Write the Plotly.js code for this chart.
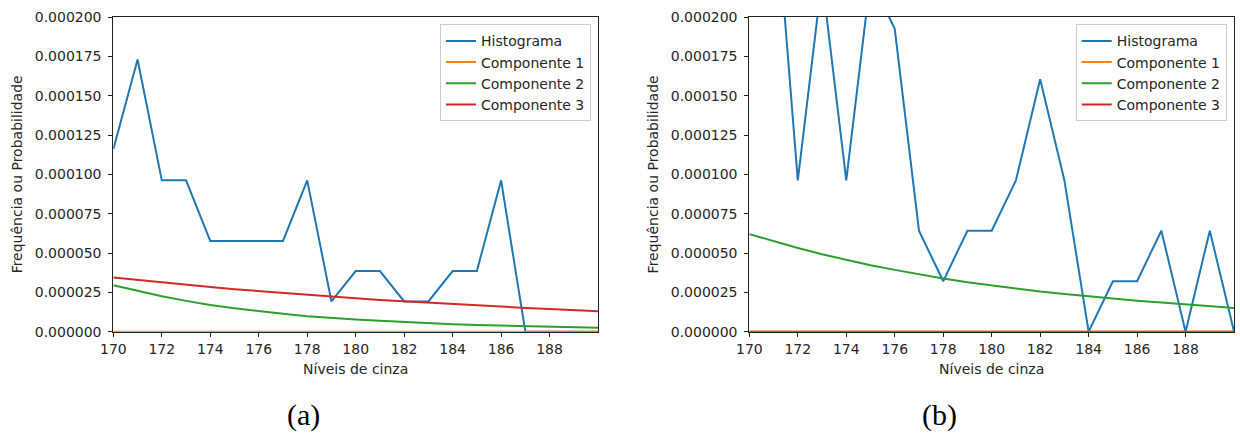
<!DOCTYPE html>
<html>
<head>
<meta charset="utf-8">
<script src="https://cdn.plot.ly/plotly-3.0.1.min.js"></script>
<style>html,body{margin:0;padding:0;background:#fff;}#chart{width:1240px;height:434px;}</style>
</head>
<body>
<div id="chart"></div>
<script>
// Gray levels (x values)
const levels = [170,171,172,173,174,175,176,177,178,179,180,181,182,183,184,185,186,187,188,189,190];

// Panel (a)
const histA  = [116e-6,173e-6,96.2e-6,96.2e-6,57.7e-6,57.7e-6,57.7e-6,57.7e-6,96.2e-6,19.2e-6,38.5e-6,38.5e-6,19.2e-6,19.2e-6,38.5e-6,38.5e-6,96.2e-6,0,0,0,0];
const comp1A = [0,0,0,0,0,0,0,0,0,0,0,0,0,0,0,0,0,0,0,0,0];
const comp2A = [29.5e-6,25.8e-6,22.5e-6,19.6e-6,17.0e-6,14.9e-6,13.0e-6,11.4e-6,9.9e-6,8.7e-6,7.8e-6,6.9e-6,6.1e-6,5.4e-6,4.8e-6,4.2e-6,3.8e-6,3.4e-6,3.0e-6,2.7e-6,2.5e-6];
const comp3A = [34.4e-6,32.8e-6,31.2e-6,29.8e-6,28.4e-6,27.0e-6,25.8e-6,24.5e-6,23.4e-6,22.3e-6,21.2e-6,20.2e-6,19.3e-6,18.4e-6,17.5e-6,16.7e-6,15.9e-6,15.1e-6,14.4e-6,13.7e-6,13.0e-6];

// Panel (b)
const histB  = [321e-6,289e-6,96.2e-6,224.5e-6,96.2e-6,224.5e-6,192.5e-6,64.2e-6,32.1e-6,64.2e-6,64.2e-6,96.2e-6,160.4e-6,96.2e-6,0,32.1e-6,32.1e-6,64.2e-6,0,64.2e-6,0];
const comp1B = [0,0,0,0,0,0,0,0,0,0,0,0,0,0,0,0,0,0,0,0,0];
const comp2B = [62.0e-6,57.5e-6,53.2e-6,49.2e-6,45.6e-6,42.3e-6,39.3e-6,36.5e-6,33.8e-6,31.4e-6,29.3e-6,27.3e-6,25.5e-6,23.9e-6,22.4e-6,21.0e-6,19.7e-6,18.5e-6,17.3e-6,16.1e-6,15.0e-6];
const comp3B = [0,0,0,0,0,0,0,0,0,0,0,0,0,0,0,0,0,0,0,0,0];

// Labels and ticks
const seriesNames = ["Histograma","Componente 1","Componente 2","Componente 3"];
const xTicks = [170,172,174,176,178,180,182,184,186,188];
const yTicks = [0,0.000025,0.00005,0.000075,0.0001,0.000125,0.00015,0.000175,0.0002];
const yTickText = ["0.000000","0.000025","0.000050","0.000075","0.000100","0.000125","0.000150","0.000175","0.000200"];
const xTitle = "Níveis de cinza";
const yTitle = "Frequência ou Probabilidade";
const captions = ["(a)","(b)"];

const colors = ["#1f77b4","#ff7f0e","#2ca02c","#d62728"];
const FONT = "DejaVu Sans, sans-serif";
const TXT = "#262626";

function mk(y, i, xa, ya, leg) {
  return {x: levels, y: y, type: "scatter", mode: "lines", name: seriesNames[i],
    xaxis: xa, yaxis: ya, legend: leg,
    line: {color: colors[i], width: 2}, hoverinfo: "skip"};
}
const data = [
  mk(histA,0,"x","y","legend"), mk(comp1A,1,"x","y","legend"), mk(comp2A,2,"x","y","legend"), mk(comp3A,3,"x","y","legend"),
  mk(histB,0,"x2","y2","legend2"), mk(comp1B,1,"x2","y2","legend2"), mk(comp2B,2,"x2","y2","legend2"), mk(comp3B,3,"x2","y2","legend2")
];

function xax(dom, anchor) {
  return {domain: dom, anchor: anchor, range: [170,190], tickvals: xTicks, ticks: "outside", ticklen: 4, tickwidth: 1,
    tickcolor: "#222", showline: true, linecolor: "#222", linewidth: 1, mirror: true, showgrid: false, zeroline: false,
    automargin: false, tickfont: {family: FONT, size: 14, color: TXT},
    title: {text: xTitle, font: {family: FONT, size: 14, color: TXT}, standoff: 8}};
}
function yax(anchor) {
  return {domain: [0.2357,0.9608], anchor: anchor, range: [0,0.0002], tickvals: yTicks, ticktext: yTickText,
    ticks: "outside", ticklen: 4, tickwidth: 1, tickcolor: "#222", showline: true, linecolor: "#222", linewidth: 1,
    mirror: true, showgrid: false, zeroline: false, automargin: false, ticklabelstandoff: 4,
    tickfont: {family: FONT, size: 14, color: TXT},
    title: {text: yTitle, font: {family: FONT, size: 14, color: TXT}, standoff: 8}};
}
const legStyle = {bgcolor: "rgba(255,255,255,0.8)", bordercolor: "#cccccc", borderwidth: 1,
  font: {family: FONT, size: 14, color: TXT}, xanchor: "right", yanchor: "top", y: 0.944, itemwidth: 30, tracegroupgap: 0};

const layout = {
  width: 1240, height: 434, margin: {l: 0, r: 0, t: 0, b: 0},
  paper_bgcolor: "#fff", plot_bgcolor: "#fff", showlegend: true,
  xaxis: xax([0.0914,0.4823],"y"), yaxis: yax("x"),
  xaxis2: xax([0.6043,0.9952],"y2"), yaxis2: yax("x2"),
  legend: Object.assign({}, legStyle, {x: 0.4766}),
  legend2: Object.assign({}, legStyle, {x: 0.9893}),
  annotations: [
    {text: captions[0], x: 0.245, y: 0.043, xref: "paper", yref: "paper", showarrow: false, xanchor: "center", yanchor: "middle",
     font: {family: "Liberation Serif, serif", size: 30, color: "#000"}},
    {text: captions[1], x: 0.758, y: 0.043, xref: "paper", yref: "paper", showarrow: false, xanchor: "center", yanchor: "middle",
     font: {family: "Liberation Serif, serif", size: 30, color: "#000"}}
  ]
};
Plotly.newPlot("chart", data, layout, {displayModeBar: false, staticPlot: true});
</script>
</body>
</html>
